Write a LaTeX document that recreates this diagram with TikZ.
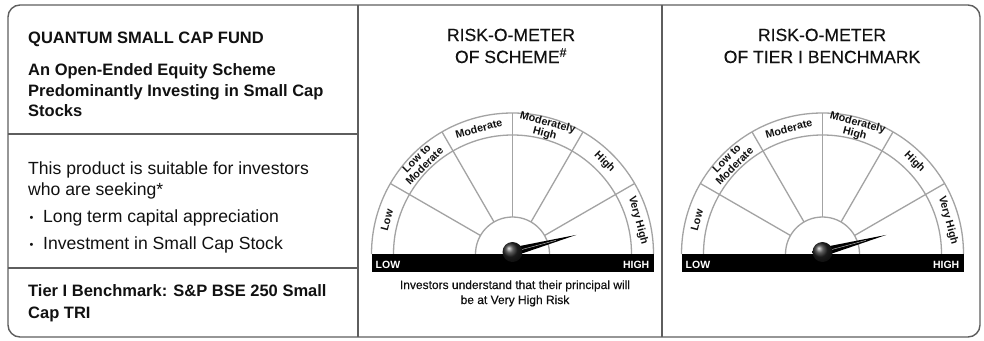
\documentclass[tikz,border=0pt]{standalone}
\usepackage{fontspec}
\setmainfont{Liberation Sans}
\newfontface\medfont{Liberation Sans}[FakeBold=0.35]
\newfontface\medfontb{Liberation Sans}[FakeBold=0.35]
\usetikzlibrary{calc}
\definecolor{frameC}{HTML}{5E5E5E}
\definecolor{gaugeC}{HTML}{A3A3A3}
\definecolor{textC}{HTML}{111111}
\tikzset{
  frame/.style={draw=frameC, line width=1.4pt},
  gline/.style={draw=gaugeC, line width=1.3pt},
  boldtxt/.style={anchor=base west, inner sep=0pt, text=textC, font=\bfseries\fontsize{16.5}{19}\selectfont},
  bodytxt/.style={anchor=base west, inner sep=0pt, text=textC, font=\fontsize{17.6}{20}\selectfont},
  headtxt/.style={anchor=base, inner sep=0pt, text=textC, font=\fontsize{17.6}{20}\selectfont},
  seglabel/.style={inner sep=0pt, text=textC, align=center, font=\bfseries\fontsize{10.8}{11}\selectfont},
  bartxt/.style={inner sep=0pt, text=white, font=\bfseries\fontsize{10.5}{12}\selectfont},
  captxt/.style={anchor=base, inner sep=0pt, text=textC, font=\fontsize{12}{13}\selectfont},
  gauge/.pic={
    \begin{scope}[yscale=-1]
      \draw[gline] (0:141) arc[start angle=0, end angle=180, radius=141];
      \draw[gline] (0:119) arc[start angle=0, end angle=180, radius=119];
      \draw[gline] (0:37) arc[start angle=0, end angle=180, radius=37];
      \foreach \a in {30,60,90,120,150} \draw[gline] (\a:37) -- (\a:141);
      \node[seglabel, rotate=75] (low) at (165:130) {Low};
      \node[seglabel, rotate=45] (lowmod) at (135:130) {Low to\\Moderate};
      \node[seglabel, rotate=15] (mod) at (105:130) {Moderate};
      \node[seglabel, rotate=-15] (modhigh) at (75:130) {Moderately\\High};
      \node[seglabel, rotate=-45] (high) at (45:130) {High};
      \node[seglabel, rotate=-75] (vhigh) at (15:130) {Very High};
      \fill[black] (-141,0) rectangle (141,-18);
      \node[bartxt, anchor=base west] (barlow) at (-137,-14) {LOW};
      \node[bartxt, anchor=base east] (barhigh) at (137,-14) {HIGH};
      \coordinate (hub) at (0,2);
      \coordinate (tip) at ($(hub)+(15:66)$);
      \fill[black] (tip) -- ($(hub)+(105:4.5)$) -- ($(hub)+(-75:4.5)$) -- cycle;
      \draw[gray!60, line width=0.5pt] ($(hub)+(15:8)$) -- ($(hub)+(15:45)$);
      \shade[ball color=black!85] (hub) circle (10);
    \end{scope}
  }
}
\begin{document}
\begin{tikzpicture}[x=1pt, y=-1pt]
\useasboundingbox (0,0) rectangle (984,340);
\fill[white] (0,0) rectangle (984,340);
% frame and dividers
\draw[frame, rounded corners=12pt] (8,5) rectangle (980,337);
\draw[frame] (358,5) -- (358,337);
\draw[frame] (662,5) -- (662,337);
\draw[frame] (8,134) -- (358,134);
\draw[frame] (8,268) -- (358,268);
% left panel
\node[boldtxt] (fund) at (28,43) {QUANTUM SMALL CAP FUND};
\node[boldtxt] (sub1) at (28,75) {An Open-Ended Equity Scheme};
\node[boldtxt] (sub2) at (28,96) {Predominantly Investing in Small Cap};
\node[boldtxt] (sub3) at (28,116) {Stocks};
\node[bodytxt] (suit1) at (28,174) {This product is suitable for investors};
\node[bodytxt] (suit2) at (28,195) {who are seeking*};
\node[bodytxt] (b1dot) at (29.5,222) {\raisebox{1pt}{\fontsize{11}{12}\selectfont\textbullet}};
\node[bodytxt] (b1) at (43,222) {Long term capital appreciation};
\node[bodytxt] (b2dot) at (29.5,249) {\raisebox{1pt}{\fontsize{11}{12}\selectfont\textbullet}};
\node[bodytxt] (b2) at (43,249) {Investment in Small Cap Stock};
\node[boldtxt] (bm1) at (28,296) {Tier I Benchmark: S\&P BSE 250 Small};
\node[boldtxt] (bm2) at (28,318) {Cap TRI};
% middle panel
\node[headtxt] (t1a) at (511,41) {\medfont RISK-O-METER};
\node[headtxt] (t1b) at (511,63) {\medfont OF SCHEME\textsuperscript{\#}};
\pic (g1) at (512.5,254) {gauge};
\node[captxt] (cap1) at (515,289) {\medfont Investors understand that their principal will};
\node[captxt] (cap2) at (515,304) {\medfont be at Very High Risk};
% right panel
\node[headtxt] (t2a) at (822,41) {\medfont RISK-O-METER};
\node[headtxt] (t2b) at (822,63) {\medfont OF TIER I BENCHMARK};
\pic (g2) at (822.5,254) {gauge};
\end{tikzpicture}
\end{document}
